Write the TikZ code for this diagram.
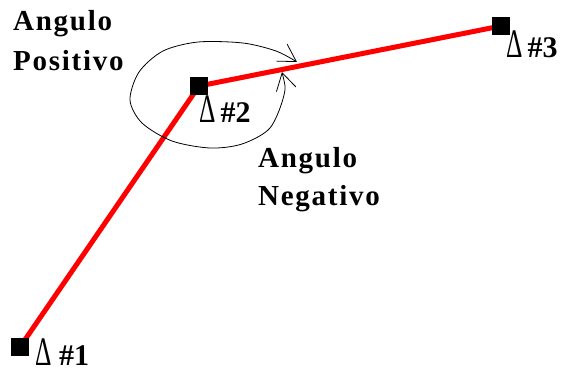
\documentclass[tikz,border=0pt]{standalone}
\usepackage{fontspec}
\setmainfont{Liberation Serif}
\newfontfamily\labfont{Liberation Serif}[LetterSpace=6]
\usetikzlibrary{arrows.meta}
\newcommand{\tri}{\scalebox{0.85}[1.35]{Δ}}
\begin{document}
\begin{tikzpicture}[x=1pt,y=-1pt,
  pt/.style={fill=black,minimum size=18pt,inner sep=0pt,draw=none},
  seg/.style={red,line width=5pt},
  word/.style={font=\labfont\bfseries\fontsize{29}{31}\selectfont,inner sep=0pt,anchor=base west},
  tag/.style={font=\fontsize{30}{32}\selectfont,inner sep=0pt,anchor=base west},
  turn/.style={line width=0.8pt,{Straight Barb[length=17pt,width=20pt]}-{Straight Barb[length=17pt,width=20pt]}}]
\useasboundingbox (0,0) rectangle (566,373);
\coordinate (c1) at (20,347);
\coordinate (c2) at (199,86);
\coordinate (c3) at (501,26);
\draw[seg] (c1) -- (c2) -- (c3);
\node[pt] (p1) at (c1) {};
\node[pt] (p2) at (c2) {};
\node[pt] (p3) at (c3) {};
\node[tag] (t1) at (35,365) {\tri\ \textbf{\#1}};
\node[tag] (t2) at (199,122) {\tri\,\textbf{\#2}};
\node[tag] (t3) at (506,57) {\tri\,\textbf{\#3}};
\node[word] (pa) at (13,30) {Angulo};
\node[word] (pb) at (13,70) {Positivo};
\node[word] (na) at (258,167) {Angulo};
\node[word] (nb) at (258,205) {Negativo};
\draw[turn] plot[smooth] coordinates {(282,72) (284,95) (270,128) (242,144) (210,148) (172,141) (142,123) (130,100) (139,72) (163,51) (198,42) (243,43) (276,51) (297,62)};
\end{tikzpicture}
\end{document}
